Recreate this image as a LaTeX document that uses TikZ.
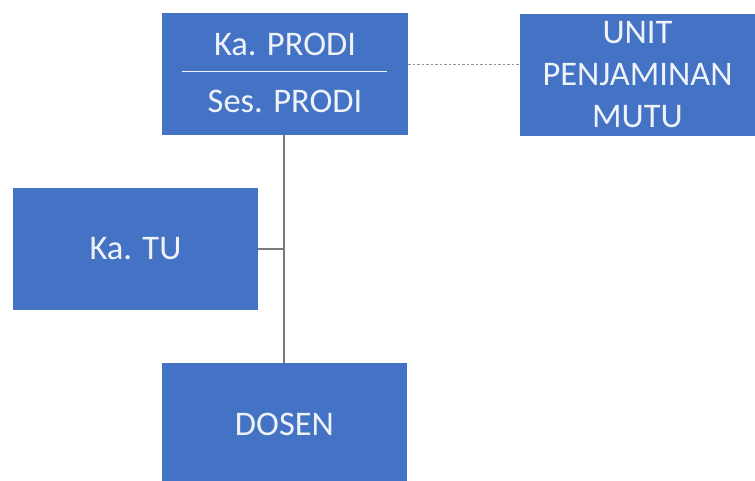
\documentclass[tikz,border=0pt]{standalone}
\usepackage{fontspec}
\setmainfont{Carlito}
\definecolor{boxblue}{HTML}{4472C4}
\definecolor{linegray}{HTML}{7A7A7A}
\definecolor{txt}{HTML}{EEF3FA}
\tikzset{
  orgbox/.style={fill=boxblue, draw=none, inner sep=0pt, text=txt, font=\fontsize{34.5}{42}\selectfont, align=center},
  conn/.style={draw=linegray, line width=1.4pt},
  dashconn/.style={draw=linegray!80, line width=1pt, dash pattern=on 2.5pt off 2pt}
}
\begin{document}
\begin{tikzpicture}[x=1pt,y=-1pt]
\useasboundingbox (0,0) rectangle (755,481);
\clip (0,0) rectangle (755,481);
\node[orgbox, minimum width=246pt, minimum height=122pt] (prodi) at (285,74) {};
\node[text=txt, font=\fontsize{34.5}{40}\selectfont, inner sep=0pt] (kaprodi) at (285,44) {Ka. PRODI};
\node[text=txt, font=\fontsize{34.5}{40}\selectfont, inner sep=0pt] (sesprodi) at (285,101) {Ses. PRODI};
\coordinate (divl) at (182,72);
\coordinate (divr) at (387,72);
\draw[draw=txt, line width=1pt] (divl) -- (divr);
\node[orgbox, minimum width=235pt, minimum height=122pt] (upm) at (637.5,75) {UNIT\\PENJAMINAN\\MUTU};
\node[orgbox, minimum width=245pt, minimum height=122pt] (katu) at (135.5,249) {Ka. TU};
\node[orgbox, minimum width=245pt, minimum height=122pt] (dosen) at (284.5,424) {DOSEN};
\coordinate (dl) at (prodi.east |- 0,65);
\coordinate (dr) at (upm.west |- 0,65);
\draw[dashconn] (dl) -- (dr);
\coordinate (vtop) at (284,135);
\coordinate (vj) at (284,249);
\coordinate (vbot) at (284,363);
\draw[conn] (vtop) -- (vbot);
\draw[conn] (katu.east) -- (vj);
\end{tikzpicture}
\end{document}
